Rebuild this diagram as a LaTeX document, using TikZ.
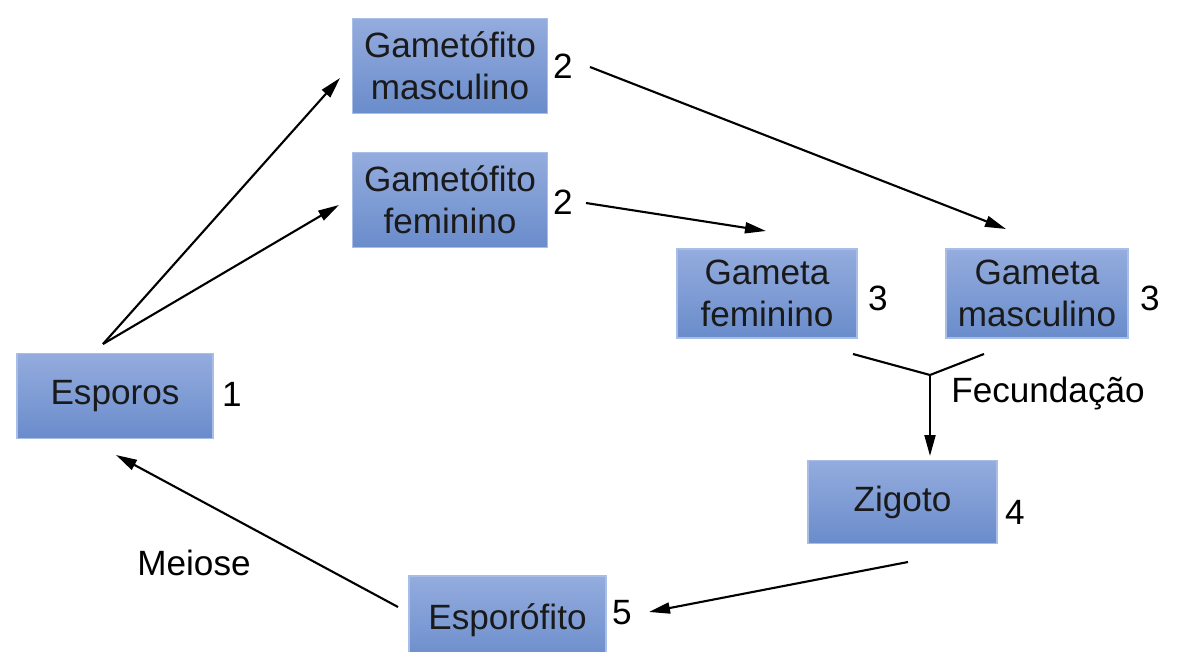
\documentclass[tikz,border=0pt]{standalone}
\usepackage{fontspec}
\setmainfont{Liberation Sans}
\usetikzlibrary{arrows.meta}
\definecolor{boxtop}{HTML}{94ACDE}
\definecolor{boxbot}{HTML}{6A8CCB}
\definecolor{boxline}{HTML}{A9BEE7}
\definecolor{txt}{HTML}{1A1A1A}
\tikzset{
  stage/.style={draw=boxline, line width=0.8pt, top color=boxtop, bottom color=boxbot,
    align=center, inner sep=0pt, text=txt, font=\fontsize{20}{24}\selectfont},
  num/.style={font=\fontsize{20}{24}\selectfont, inner sep=1pt, text=black},
  conn/.style={line width=1.2pt, -{Triangle[length=0.42cm,width=0.22cm]}},
  plainline/.style={line width=1.2pt},
}
\begin{document}
\begin{tikzpicture}[x=0.02cm,y=-0.02cm]
\useasboundingbox (0,0) rectangle (1181,652);
\clip (0,0) rectangle (1181,652);
% boxes
\node[stage, minimum width=3.92cm, minimum height=1.70cm] (esp) at (115,396) {Esporos};
\node[stage, minimum width=3.90cm, minimum height=1.90cm] (gmasc) at (450,66) {Gametófito\\masculino};
\node[stage, minimum width=3.90cm, minimum height=1.90cm] (gfem) at (450,200) {Gametófito\\feminino};
\node[stage, minimum width=3.60cm, minimum height=1.78cm] (gtfem) at (767,293.5) {Gameta\\feminino};
\node[stage, minimum width=3.64cm, minimum height=1.78cm] (gtmasc) at (1037,293.5) {Gameta\\masculino};
\node[stage, minimum width=3.78cm, minimum height=1.66cm] (zig) at (902.5,502) {Zigoto};
\node[stage, minimum width=3.94cm, minimum height=1.76cm] (spo) at (507.5,620) {Esporófito};
% numbers
\node[num] (n1) at (232,394) {1};
\node[num] (n2a) at (563,66) {2};
\node[num] (n2b) at (563,202) {2};
\node[num] (n3a) at (878,298) {3};
\node[num] (n3b) at (1150,298) {3};
\node[num] (n4) at (1015,512) {4};
\node[num] (n5) at (622,613) {5};
% labels
\node[num] (meiose) at (194,563) {Meiose};
\node[num] (fec) at (1048,393) {Fecundação};
% connector points
\coordinate (s1) at (103,344);
\coordinate (e1) at (340,78);
\coordinate (e2) at (339,205);
\coordinate (s3) at (590,67);
\coordinate (e3) at (1006,229);
\coordinate (s4) at (586,203);
\coordinate (e4) at (766,231);
\coordinate (yl) at (853,354);
\coordinate (yr) at (984,354);
\coordinate (yj) at (930,375);
\coordinate (ye) at (930,456);
\coordinate (s6) at (908,562);
\coordinate (e6) at (649,612);
\coordinate (s7) at (398,607);
\coordinate (e7) at (116,455);
% connectors
\draw[conn] (s1) -- (e1);
\draw[conn] (s1) -- (e2);
\draw[conn] (s3) -- (e3);
\draw[conn] (s4) -- (e4);
\draw[plainline] (yl) -- (yj) -- (yr);
\draw[conn] (yj) -- (ye);
\draw[conn] (s6) -- (e6);
\draw[conn] (s7) -- (e7);
\end{tikzpicture}
\end{document}
